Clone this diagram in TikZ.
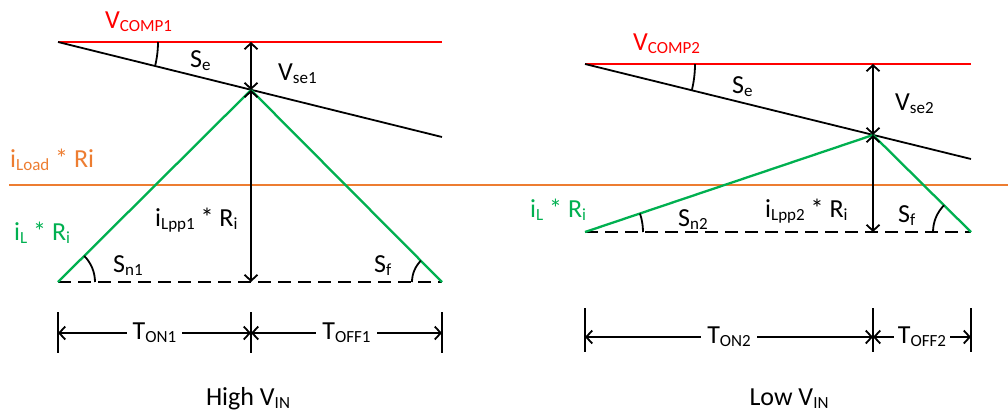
\documentclass[tikz,border=0pt]{standalone}
\usepackage{fontspec}
\setmainfont{Carlito}
\usetikzlibrary{arrows.meta}
\newcommand\lsub[1]{\raisebox{-0.12em}{\fontsize{17}{17}\selectfont #1}}
\definecolor{myred}{RGB}{255,0,0}
\definecolor{mygreen}{RGB}{0,176,80}
\definecolor{myorange}{RGB}{237,125,49}
\begin{document}
\begin{tikzpicture}[x=1pt,y=-1pt,
  lbl/.style={inner sep=0pt, anchor=base west, font=\fontsize{26}{30}\selectfont},
  ctr/.style={inner sep=0pt, anchor=base, font=\fontsize{26}{30}\selectfont},
  comp/.style={myred, line width=1.8pt},
  ramp/.style={black, line width=1.8pt},
  cur/.style={mygreen, line width=2.3pt, line join=miter},
  base/.style={black, line width=1.8pt, dash pattern=on 13pt off 7pt},
  dim/.style={black, line width=1.8pt, {Straight Barb[length=6pt,width=13pt]}-{Straight Barb[length=6pt,width=13pt]}},
  tick/.style={black, line width=1.8pt},
  ang/.style={black, line width=1.8pt},
  load/.style={myorange, line width=1.8pt}]
\useasboundingbox (0,0) rectangle (1008,413);

% ---------- load line ----------
\coordinate (O1) at (9,185);
\coordinate (O2) at (1008,185);
\draw[load] (O1) -- (O2);
\node[lbl, text=myorange] (iload) at (10,167) {i\lsub{Load} * Ri};

% ---------- left diagram ----------
\coordinate (A1) at (58,42);
\coordinate (B1) at (442,42);
\coordinate (C1) at (442,137);
\coordinate (P1) at (251,90);
\coordinate (T1) at (251,42);
\coordinate (L1) at (58,282);
\coordinate (M1) at (251,282);
\coordinate (R1) at (442,282);
\draw[comp] (A1) -- (B1);
\draw[ramp] (A1) -- (C1);
\draw[base] (L1) -- (R1);
\draw[cur] (L1) -- (P1) -- (R1);
\draw[dim] (T1) -- (P1);
\draw[dim] (P1) -- (M1);
\draw[ang] (A1) ++(0:100pt) arc[start angle=0, end angle=-13.9, radius=100pt];
\draw[ang] (L1) ++(0:37pt) arc[start angle=0, end angle=44.9, radius=37pt];
\draw[ang] (R1) ++(180:30pt) arc[start angle=180, end angle=134.9, radius=30pt];

\node[lbl, text=myred] (vc1) at (105,28) {V\lsub{COMP1}};
\node[lbl] (se1) at (190,67) {S\lsub{e}};
\node[lbl] (vse1) at (278,80) {V\lsub{se1}};
\node[lbl, text=mygreen] (il1) at (14,240) {i\lsub{L} * R\lsub{i}};
\node[lbl] (ilpp1) at (155,226) {i\lsub{Lpp1} * R\lsub{i}};
\node[lbl] (sn1) at (113,272) {S\lsub{n1}};
\node[lbl] (sf1) at (374,272) {S\lsub{f}};

% time axis left
\coordinate (ta1) at (58,333);
\coordinate (ta2) at (251,333);
\coordinate (ta3) at (442,333);
\foreach \x in {58,251,442} {\draw[tick] (\x,312) -- (\x,353);}
\draw[dim] (ta1) -- node[ctr, fill=white, inner xsep=6pt, inner ysep=2pt, anchor=center] (ton1) {T\lsub{ON1}} (ta2);
\draw[dim] (ta2) -- node[ctr, fill=white, inner xsep=6pt, inner ysep=2pt, anchor=center] (toff1) {T\lsub{OFF1}} (ta3);
\node[ctr] (hv) at (248,405) {High V\lsub{IN}};

% ---------- right diagram ----------
\coordinate (A2) at (585,64);
\coordinate (B2) at (971,64);
\coordinate (C2) at (971,159);
\coordinate (P2) at (873,135);
\coordinate (T2) at (873,64);
\coordinate (L2) at (585,232);
\coordinate (M2) at (873,232);
\coordinate (R2) at (971,232);
\draw[comp] (A2) -- (B2);
\draw[ramp] (A2) -- (C2);
\draw[base] (L2) -- (R2);
\draw[cur] (L2) -- (P2) -- (R2);
\draw[dim] (T2) -- (P2);
\draw[dim] (P2) -- (M2);
\draw[ang] (A2) ++(0:110pt) arc[start angle=0, end angle=-13.8, radius=110pt];
\draw[ang] (L2) ++(0:58pt) arc[start angle=0, end angle=18.6, radius=58pt];
\draw[ang] (R2) ++(180:38pt) arc[start angle=180, end angle=135.3, radius=38pt];

\node[lbl, text=myred] (vc2) at (633,50) {V\lsub{COMP2}};
\node[lbl] (se2) at (732,93) {S\lsub{e}};
\node[lbl] (vse2) at (895,110) {V\lsub{se2}};
\node[lbl, text=mygreen] (il2) at (530,217) {i\lsub{L} * R\lsub{i}};
\node[lbl] (ilpp2) at (765,217) {i\lsub{Lpp2} * R\lsub{i}};
\node[lbl] (sn2) at (678,226) {S\lsub{n2}};
\node[lbl] (sf2) at (898,222) {S\lsub{f}};

% time axis right
\coordinate (tb1) at (585,337);
\coordinate (tb2) at (873,337);
\coordinate (tb3) at (971,337);
\foreach \x in {585,873,971} {\draw[tick] (\x,308) -- (\x,352);}
\draw[dim] (tb1) -- node[ctr, fill=white, inner xsep=6pt, inner ysep=2pt, anchor=center] (ton2) {T\lsub{ON2}} (tb2);
\draw[dim] (tb2) -- node[ctr, fill=white, inner xsep=4pt, inner ysep=2pt, anchor=center] (toff2) {T\lsub{OFF2}} (tb3);
\node[ctr] (lv) at (789,405) {Low V\lsub{IN}};
\end{tikzpicture}
\end{document}
